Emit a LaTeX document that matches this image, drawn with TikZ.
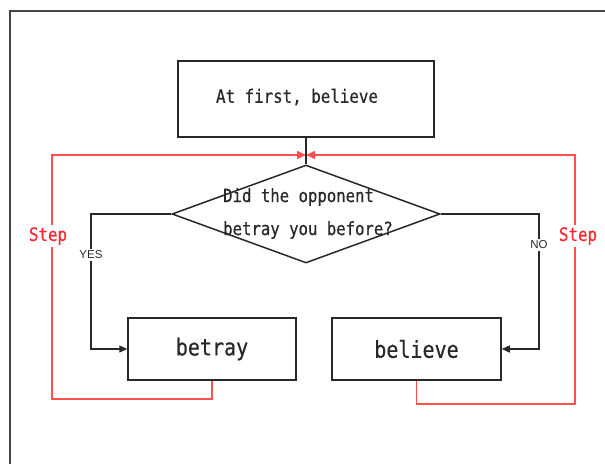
\documentclass[tikz,border=0pt]{standalone}
\usepackage{fontspec}
\usetikzlibrary{shapes.geometric,arrows.meta}
\newfontfamily\gothic[FakeStretch=0.86,FakeBold=0.5]{DejaVu Sans Mono}
\newfontfamily\labelfont{Liberation Sans}
\definecolor{ink}{RGB}{40,40,40}
\definecolor{frameink}{RGB}{70,70,70}
\definecolor{loopred}{RGB}{255,80,80}
\definecolor{stepred}{RGB}{250,40,50}

\tikzset{
  procbox/.style={draw=ink, line width=1.5pt, rectangle, inner sep=0pt},
  decision/.style={draw=ink, line width=1.5pt, diamond, inner sep=0pt},
  flowline/.style={draw=ink, line width=1.4pt},
  flowarrow/.style={flowline, -{Triangle[length=8pt,width=7pt]}},
  loopline/.style={draw=loopred, line width=1.6pt, -{Triangle[length=9pt,width=8pt]}},
  boxtext/.style={font=\gothic\fontsize{18.4}{20}\selectfont, text=ink},
  bigtext/.style={font=\gothic\fontsize{23.3}{26}\selectfont, text=ink},
  branchlabel/.style={font=\labelfont\fontsize{11.5}{13}\selectfont, text=ink, fill=white, inner sep=1.5pt},
  steplabel/.style={font=\gothic\fontsize{18.4}{20}\selectfont, text=stepred, fill=white, inner sep=2pt},
}

\begin{document}
\begin{tikzpicture}[x=1pt, y=-1pt]
  \useasboundingbox (0,0) rectangle (605,464);
  \fill[white] (0,0) rectangle (605,464);

  % page frame (top and left edges)
  \draw[frameink, line width=1.4pt] (605,11) -- (10,11) -- (10,464);

  % start box
  \node[procbox, minimum width=256pt, minimum height=76pt] (start) at (306,99) {};
  \node[boxtext] (starttext) at (297,97) {At first, believe};

  % decision
  \node[decision, minimum width=268pt, minimum height=98pt] (q) at (306,214) {};
  \node[boxtext, align=left, font=\gothic\fontsize{18.2}{33}\selectfont] (qtext) at (308,213.5)
    {Did the opponent\\betray you before?};

  % outcomes
  \node[procbox, minimum width=168pt, minimum height=62pt, bigtext] (betray) at (212,349) {betray};
  \node[procbox, minimum width=169pt, minimum height=62pt, bigtext] (believe) at (416.5,349) {believe};

  % bend points
  \coordinate (yescorner) at (91,214);
  \coordinate (nocorner) at (539,214);
  \coordinate (join) at (306,155);
  \coordinate (leftloop) at (52,399);
  \coordinate (rightloop) at (575,404);

  % red feedback loops
  \draw[loopline] (betray.south) |- (leftloop) |- (join);
  \draw[loopline] (believe.south) |- (rightloop) |- (join);

  % main flow
  \draw[flowline] (start.south) -- (q.north);
  \draw[flowarrow] (q.west) -- (yescorner) |- (betray.west);
  \draw[flowarrow] (q.east) -- (nocorner) |- (believe.east);

  % labels
  \node[branchlabel] (yes) at (91,255) {YES};
  \node[branchlabel] (no) at (539,245) {NO};
  \node[steplabel] (stepl) at (48,236) {Step};
  \node[steplabel] (stepr) at (578,236) {Step};
\end{tikzpicture}
\end{document}
